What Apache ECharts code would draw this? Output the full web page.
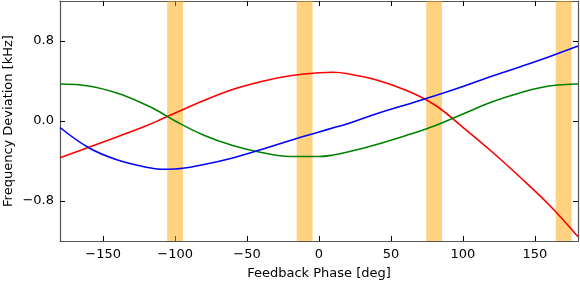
<!DOCTYPE html>
<html>
<head>
<meta charset="utf-8">
<script src="https://cdn.jsdelivr.net/npm/echarts@6/dist/echarts.min.js"></script>
<style>
html,body{margin:0;padding:0;background:#fff;}
#chart{width:580px;height:281px;}
</style>
</head>
<body>
<div id="chart"></div>
<script>
// ---- data ----
const phases = [-180,-160,-140,-120,-110,-100,-80,-60,-40,-20,0,10,20,40,60,80,100,120,140,160,180];
const redValues   = [-0.367,-0.263,-0.157,-0.047,0.015,0.08,0.205,0.315,0.395,0.452,0.483,0.487,0.472,0.41,0.31,0.165,-0.063,-0.305,-0.565,-0.84,-1.157];
const greenValues = [0.37,0.35,0.277,0.16,0.085,0.0,-0.142,-0.245,-0.315,-0.355,-0.355,-0.34,-0.31,-0.235,-0.147,-0.05,0.07,0.19,0.283,0.35,0.37];
const blueValues  = [-0.065,-0.267,-0.39,-0.462,-0.482,-0.48,-0.435,-0.37,-0.285,-0.195,-0.11,-0.068,-0.027,0.073,0.16,0.25,0.345,0.447,0.543,0.643,0.75];
const bandCenters = [-100,-10,80,170];
const bandHalfWidth = 5.5;
const xTickValues = [-150,-100,-50,0,50,100,150];
const yTickValues = [-0.8,0,0.8];
const xRange = [-180,180];
const yRange = [-1.2,1.2];
const xTitle = 'Feedback Phase [deg]';
const yTitle = 'Frequency Deviation [kHz]';

const FONT = 'DejaVu Sans';
const fmtNum = (v, d) => (v < 0 ? '\u2212' : '') + Math.abs(v).toFixed(d);

function pairs(vals){ return phases.map((p,i)=>[p, vals[i]]); }

const frameLine = () => ({show:true, onZero:false, lineStyle:{color:'#555', width:1.2}});
const noLine = () => ({show:false, onZero:false});
const tickStyle = (vals) => ({show:true, inside:true, length:5, customValues: vals, lineStyle:{color:'#000', width:1}});

// axis that only carries inside ticks
function tickAxis(pos, range, vals, withLine){
  return {
    type:'value', min:range[0], max:range[1], position:pos,
    axisLine: withLine ? frameLine() : noLine(),
    axisTick: tickStyle(vals),
    splitLine:{show:false}, axisLabel:{show:false}
  };
}

const chart = echarts.init(document.getElementById('chart'), null, {renderer:'canvas'});
chart.setOption({
  animation:false,
  backgroundColor:'#fff',
  grid:{left:60, right:2, top:1, bottom:40, outerBoundsMode:'none'},
  xAxis:[{
    type:'value', min:xRange[0], max:xRange[1], position:'bottom',
    axisLine:frameLine(), axisTick:{show:false},
    splitLine:{show:false},
    axisLabel:{customValues:xTickValues, formatter:v=>fmtNum(v,0), color:'#000', fontFamily:FONT, fontSize:13, margin:7},
    name:xTitle, nameLocation:'middle', nameGap:26, nameMoveOverlap:false,
    nameTextStyle:{color:'#000', fontFamily:FONT, fontSize:13}
  },
    tickAxis('top', xRange, xTickValues, true),
    tickAxis('bottom', xRange, xTickValues, false)
  ],
  yAxis:[{
    type:'value', min:yRange[0], max:yRange[1], position:'left',
    axisLine:frameLine(), axisTick:{show:false},
    splitLine:{show:false},
    axisLabel:{customValues:yTickValues, formatter:v=>fmtNum(v,1), color:'#000', fontFamily:FONT, fontSize:13, margin:6},
    name:yTitle, nameLocation:'middle', nameGap:45, nameMoveOverlap:false,
    nameTextStyle:{color:'#000', fontFamily:FONT, fontSize:13}
  },
    tickAxis('right', yRange, yTickValues, true),
    tickAxis('left', yRange, yTickValues, false)
  ],
  series:[
    {
      type:'line', name:'bands', data:[], silent:true,
      markArea:{silent:true, itemStyle:{color:'rgba(255,165,0,0.5)'},
        data: bandCenters.map(c=>[{xAxis:c-bandHalfWidth},{xAxis:c+bandHalfWidth}])}
    },
    {type:'line', name:'red', data:pairs(redValues), smooth:0.4, showSymbol:false,
     lineStyle:{color:'#ff0000', width:1.6}, itemStyle:{color:'#ff0000'}, z:3},
    {type:'line', name:'green', data:pairs(greenValues), smooth:0.4, showSymbol:false,
     lineStyle:{color:'#008000', width:1.6}, itemStyle:{color:'#008000'}, z:3},
    {type:'line', name:'blue', data:pairs(blueValues), smooth:0.4, showSymbol:false,
     lineStyle:{color:'#0000ff', width:1.6}, itemStyle:{color:'#0000ff'}, z:3}
  ]
});
</script>
</body>
</html>
